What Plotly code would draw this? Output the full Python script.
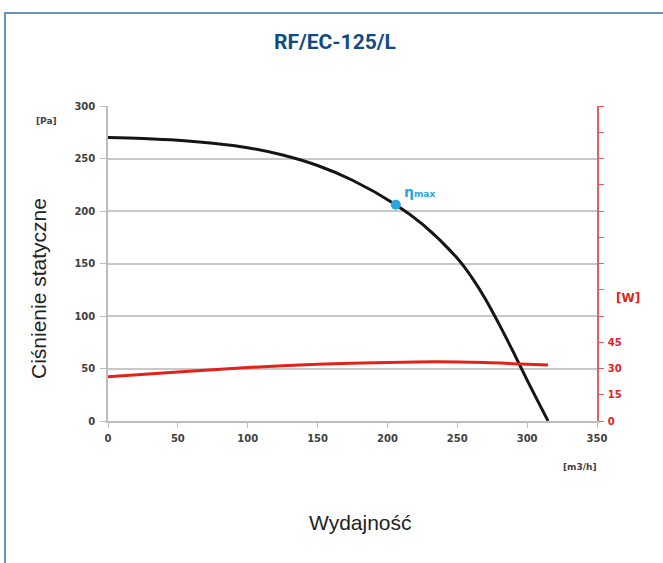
import plotly.graph_objects as go

# Data
flow_pressure = [0, 25, 50, 75, 100, 125, 150, 175, 206, 225, 250, 260, 270, 280, 290, 300, 315]
pressure = [270, 269, 267.3, 264.5, 260.3, 253.3, 243.3, 229.3, 206, 187.4, 155, 137.5, 116.5, 92, 66, 39, 0]

flow_power = [0, 50, 100, 150, 200, 235, 270, 295, 315]
power = [25.3, 28.0, 30.6, 32.4, 33.5, 33.9, 33.4, 32.6, 32.0]

eta_flow = [206]
eta_pressure = [206]

x_ticks = [0, 50, 100, 150, 200, 250, 300, 350]
y_ticks = [0, 50, 100, 150, 200, 250, 300]
w_ticks = [0, 15, 30, 45, 60, 75, 90, 105, 120, 135, 150, 165, 180]
w_labels = ["0", "15", "30", "45"] + [""] * 9

TICKFONT = dict(family="DejaVu Sans", size=10, color="#404040", weight="bold")
RED = "#e2231a"

fig = go.Figure()
fig.add_trace(go.Scatter(x=flow_pressure, y=pressure, mode="lines",
                         line=dict(color="#151515", width=3, shape="spline", smoothing=1.0),
                         hoverinfo="skip", showlegend=False))
fig.add_trace(go.Scatter(x=flow_power, y=power, mode="lines", yaxis="y2",
                         line=dict(color=RED, width=3, shape="spline", smoothing=0.8),
                         hoverinfo="skip", showlegend=False))
fig.add_trace(go.Scatter(x=eta_flow, y=eta_pressure, mode="markers",
                         marker=dict(color="#2aa7df", size=10),
                         hoverinfo="skip", showlegend=False))

fig.update_layout(
    width=663, height=563,
    margin=dict(l=108, r=66, t=106, b=142),
    paper_bgcolor="white", plot_bgcolor="white",
    xaxis=dict(range=[0, 350], tickvals=x_ticks, showgrid=False, zeroline=False,
               showline=True, linecolor="#bdbdbd", linewidth=1.5,
               ticks="outside", ticklen=5, tickcolor="#bdbdbd",
               tickfont=TICKFONT, ticklabelstandoff=2, fixedrange=True),
    yaxis=dict(range=[0, 300], tickvals=y_ticks, showgrid=True, gridcolor="#c8c8c8",
               gridwidth=1.5, zeroline=False, showline=True, linecolor="#bdbdbd",
               linewidth=1.5, ticks="outside", ticklen=6, tickcolor="#bdbdbd",
               tickfont=TICKFONT, ticklabelstandoff=3, fixedrange=True),
    yaxis2=dict(range=[0, 180], tickvals=w_ticks, ticktext=w_labels, overlaying="y",
                side="right", showgrid=False, zeroline=False, showline=True,
                linecolor="#e06060", linewidth=1.5, ticks="outside", ticklen=5,
                tickcolor="#e06060", ticklabelstandoff=2,
                tickfont=dict(family="DejaVu Sans", size=10, color=RED, weight="bold"),
                fixedrange=True),
)


def px_x(p):
    return (p - 108) / 489


def px_y(p):
    return (421 - p) / 315


def label(x, y, text, font, **kw):
    fig.add_annotation(x=px_x(x), y=px_y(y), xref="paper", yref="paper", text=text,
                       showarrow=False, xanchor="center", yanchor="middle", font=font, **kw)


label(335, 42, "<b>RF/EC-125/L</b>", dict(family="Roboto", size=21, color="#124b84"))
label(38, 289, "Ciśnienie statyczne",
      dict(family="Liberation Sans, Arial", size=21, color="#222222"), textangle=-90)
label(360, 522, "Wydajność", dict(family="Liberation Sans, Arial", size=21, color="#222222"))
label(46, 121, "<b>[Pa]</b>", dict(family="DejaVu Sans", size=9, color="#404040"))
label(580, 467, "<b>[m3/h]</b>", dict(family="DejaVu Sans", size=9, color="#404040"))
label(628, 298, "<b>[W]</b>", dict(family="DejaVu Sans", size=12, color=RED))

fig.add_annotation(x=eta_flow[0], y=eta_pressure[0], xref="x", yref="y",
                   text="<b>η</b><span style='font-size:9px'><b>max</b></span>",
                   showarrow=False, xanchor="left", yanchor="bottom", xshift=6, yshift=3,
                   font=dict(family="DejaVu Sans", size=14, color="#2aa7df"))

fig.add_shape(type="rect", xref="paper", yref="paper",
              x0=px_x(5), x1=px_x(680), y0=px_y(600), y1=px_y(13),
              line=dict(color="#6f93b8", width=2), layer="below")

fig.write_html("out.html", config={"displayModeBar": False},
               post_script="document.body.style.margin='0';")
